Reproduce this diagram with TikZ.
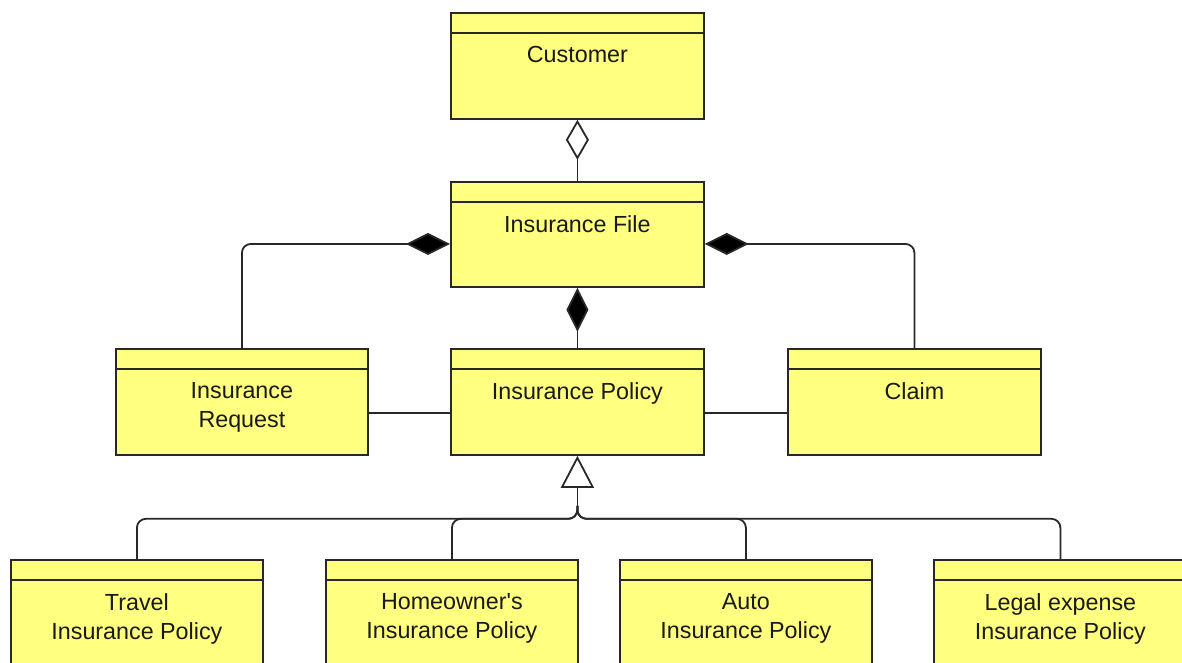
\documentclass[tikz,border=0pt]{standalone}
\usepackage{fontspec}
\setmainfont{Liberation Sans}
\usetikzlibrary{arrows.meta,calc}
\definecolor{boxfill}{RGB}{255,255,128}
\definecolor{edgec}{RGB}{40,40,40}
\definecolor{textc}{RGB}{25,25,25}
\tikzset{
  umlbox/.style={draw=edgec, fill=boxfill, line width=1.8pt, rectangle, inner sep=0pt, anchor=north west},
  umltext/.style={anchor=north, inner sep=0pt, align=center, text=textc,
    font=\fontsize{23.3}{29}\selectfont},
  headline/.style={draw=edgec, line width=1.8pt},
  conn/.style={draw=edgec, line width=1.8pt, rounded corners=9pt},
  agg/.style={conn, -{Diamond[open, length=40pt, width=23pt]}},
  comp/.style={conn, -{Diamond[fill=black, length=44pt, width=22pt]}},
  gen/.style={conn, -{Triangle[open, length=32pt, width=33pt]}},
}
\newcommand\umlclass[6]{%
  \node[umlbox, minimum width=#4pt, minimum height=#5pt] (#1) at (#2,#3) {};
  \draw[headline] ($(#1.north west)+(0,21)$) -- ($(#1.north east)+(0,21)$);
  \node[umltext] (#1-t) at ($(#1.north)+(0,34.5)$) {#6};
}
\begin{document}
\begin{tikzpicture}[x=1pt,y=-1pt]
\useasboundingbox (0,0) rectangle (1182,662);
\clip (0,0) rectangle (1182,662);
\umlclass{customer}{450}{12}{253}{106}{Customer}
\umlclass{ifile}{450}{181}{253}{105}{Insurance File}
\umlclass{request}{115}{348}{252}{106}{Insurance\\Request}
\umlclass{policy}{450}{348}{253}{106}{Insurance Policy}
\umlclass{claim}{787}{348}{253}{106}{Claim}
\umlclass{travel}{10}{559}{252}{120}{Travel\\Insurance Policy}
\umlclass{home}{325}{559}{252}{120}{Homeowner\textquotesingle s\\Insurance Policy}
\umlclass{auto}{619}{559}{252}{120}{Auto\\Insurance Policy}
\umlclass{legal}{933}{559}{253}{120}{Legal expense\\Insurance Policy}
% aggregation
\draw[agg] (ifile.north) -- (customer.south);
% compositions
\draw[comp] (policy.north) -- (ifile.south);
\draw[comp] (request.north) |- ($(ifile.west)+(0,9.5)$);
\draw[comp] (claim.north) |- ($(ifile.east)+(0,9.5)$);
% associations
\draw[conn] ($(request.east)+(0,11)$) -- ($(policy.west)+(0,11)$);
\draw[conn] ($(policy.east)+(0,11)$) -- ($(claim.west)+(0,11)$);
% generalization tree
\coordinate (junc) at ($(policy.south)+(0,63)$);
\coordinate (trunk) at ($(policy.south)+(0,50)$);
\draw[conn] (travel.north) |- (junc) -- (trunk);
\draw[conn] (home.north) |- (junc) -- (trunk);
\draw[conn] (auto.north) |- (junc) -- (trunk);
\draw[conn] (legal.north) |- (junc) -- (trunk);
\draw[gen] (trunk) -- (policy.south);
\end{tikzpicture}
\end{document}
